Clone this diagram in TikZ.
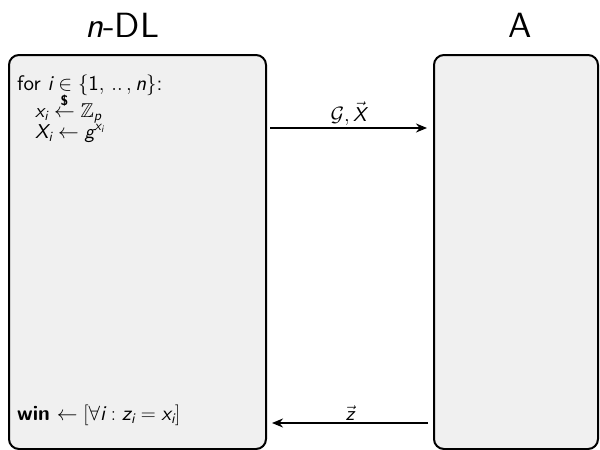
\documentclass[tikz,border=0pt]{standalone}
\usepackage{amsmath}
\usepackage{amssymb}
\usepackage{fontspec}
\setmainfont{lmsans10-regular.otf}[ItalicFont=lmsans10-oblique.otf, BoldFont=lmsans10-bold.otf, BoldItalicFont=lmsans10-boldoblique.otf]
\setsansfont{lmsans10-regular.otf}[ItalicFont=lmsans10-oblique.otf, BoldFont=lmsans10-bold.otf, BoldItalicFont=lmsans10-boldoblique.otf]
\renewcommand{\familydefault}{\sfdefault}
\newcommand{\vr}[1]{\textit{#1}}
\newcommand{\vu}[1]{\textup{#1}}
\usetikzlibrary{arrows.meta}
\tikzset{
  party/.style={draw=black, line width=2pt, rounded corners=10pt, fill=black!6},
  title/.style={font=\fontsize{35}{40}\selectfont\sffamily},
  body/.style={anchor=base west, inner sep=0pt, font=\fontsize{20}{24}\selectfont\sffamily},
  msg/.style={line width=2.2pt, -{Stealth[length=11pt,width=9pt]}},
  lbl/.style={font=\fontsize{20}{24}\selectfont\sffamily, inner sep=1pt}
}
\begin{document}
\begin{tikzpicture}[x=1pt,y=-1pt]
\useasboundingbox (0,0) rectangle (600,450);
\node[party, minimum width=257pt, minimum height=394pt, anchor=north west] (L) at (8,54) {};
\node[party, minimum width=164pt, minimum height=394pt, anchor=north west] (R) at (433,54) {};
\node[title, anchor=base] (tl) at (122,37) {\vr{n}-DL};
\node[title, anchor=base] (tr) at (520,37) {A};
\node[body, font=\fontsize{21}{25}\selectfont\sffamily] (t1) at (17,90) {for $\vr{i} \in \{\vu{1},\,..\,,\vr{n}\}$:};
\node[body] (t2) at (35,117) {$\vr{x}_{\vr{i}} \stackrel{\textbf{\$}}{\leftarrow} \mathbb{Z}_{\vr{p}}$};
\node[body] (t3) at (35,138) {$\vr{X}_{\vr{i}} \leftarrow \vr{g}^{\vr{x}_{\vr{i}}}$};
\node[body, font=\fontsize{21}{25}\selectfont\sffamily] (t4) at (17,420) {\textbf{win} $\leftarrow [\forall \vr{i} : \vr{z}_{\vr{i}} = \vr{x}_{\vr{i}}]$};
\coordinate (a1) at (270,128);
\coordinate (a2) at (427,128);
\draw[msg] (a1) -- node[lbl, above] (m1) {$\mathcal{G}, \vec{\vr{X}}$} (a2);
\coordinate (b1) at (428,423);
\coordinate (b2) at (272,423);
\draw[msg] (b1) -- node[lbl, above] (m2) {$\vec{\vr{z}}$} (b2);
\end{tikzpicture}
\end{document}
